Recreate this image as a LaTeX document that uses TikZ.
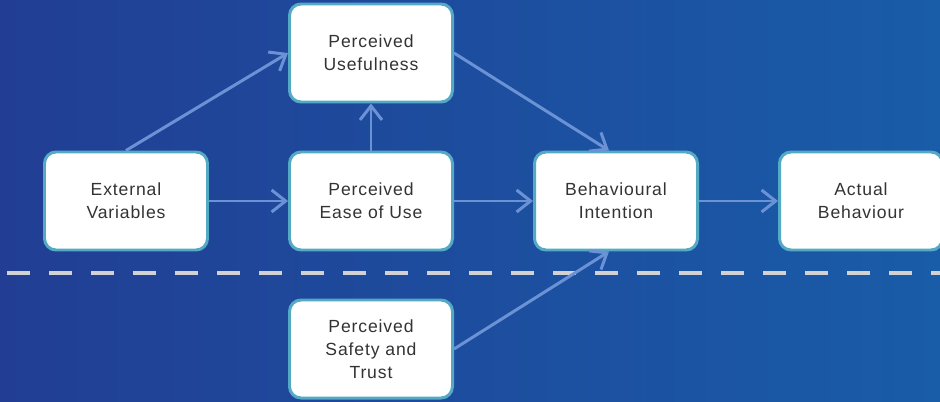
\documentclass[tikz,border=0pt]{standalone}
\usepackage{fontspec}
\setmainfont[LetterSpace=5]{Liberation Sans}
\usepackage{xcolor}
\usetikzlibrary{positioning,arrows.meta}

\definecolor{bgleft}{RGB}{33,62,148}
\definecolor{bgright}{RGB}{25,92,168}
\definecolor{boxline}{RGB}{84,170,196}
\definecolor{arrowblue}{RGB}{108,146,214}
\definecolor{dashgray}{RGB}{210,210,212}

\begin{document}
\begin{tikzpicture}[auto,node distance=2.96cm and 4.9cm,on grid,
                    main node/.style={rounded corners=6.5pt,draw=boxline,line width=1.7pt,fill=white,
                      minimum width=3.26cm,minimum height=1.96cm,align=center,text=black!80,
                      font=\fontsize{10}{13}\selectfont},
                    link/.style={draw=arrowblue,line width=1.7pt,-{Straight Barb[length=2.8mm,width=4.4mm]}}]

  % background
  \useasboundingbox (-2.52,-4.00) rectangle (16.28,4.02);
  \shade[left color=bgleft,right color=bgright] (-2.52,-4.00) rectangle (16.28,4.02);

  \node[main node] (ext) {External\\Variables};
  \node[main node] (ease) [right=of ext] {Perceived\\Ease of Use};
  \node[main node] (useful) [above=of ease] {Perceived\\Usefulness};
  \node[main node] (intent) [right=of ease] {Behavioural\\Intention};
  \node[main node] (actual) [right=of intent] {Actual\\Behaviour};
  \node[main node] (safety) [below=of ease] {Perceived\\Safety and\\Trust};

  % separator
  \coordinate (dashl) at (-2.38,-1.44);
  \coordinate (dashr) at (16.28,-1.44);
  \draw[dashgray,line width=2.8pt,dash pattern=on 0.46cm off 0.38cm] (dashl) -- (dashr);

  \path[every edge/.style={link}]
  (ext.north) edge (useful.west)
  (ext) edge (ease)
  (ease) edge (intent)
  (intent) edge (actual)
  (ease.north) edge (useful.south)
  (useful.east) edge ([xshift=-0.14cm]intent.north)
  (safety.east) edge ([xshift=-0.14cm]intent.south);

\end{tikzpicture}
\end{document}
